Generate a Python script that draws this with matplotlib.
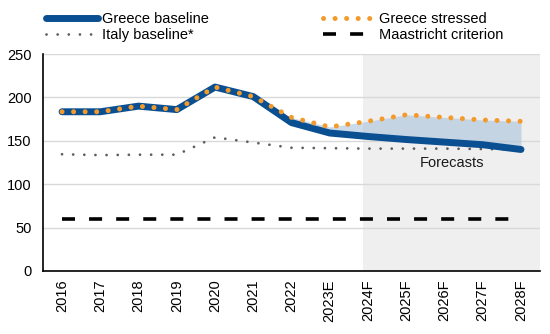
import matplotlib
matplotlib.use("Agg")
import matplotlib.pyplot as plt
from matplotlib.lines import Line2D

plt.rcParams['font.family'] = ['Liberation Sans', 'DejaVu Sans']

years = ["2016", "2017", "2018", "2019", "2020", "2021", "2022", "2023E",
         "2024F", "2025F", "2026F", "2027F", "2028F"]
greece_baseline = [183.5, 183.5, 190, 186, 212, 201, 171, 159, 155, 151.5, 148.5, 145.5, 140]
greece_stressed = [183.5, 183.5, 190, 186, 212, 201, 177, 166, 172.5, 180, 177, 174, 172.5]
italy_baseline = [134.5, 133.5, 134, 134, 154, 148, 142, 141.5, 141, 141, 141, 140.5, 140]
maastricht = [60] * len(years)
forecast_start = 7.88  # shading begins just before the first forecast year

fig = plt.figure(figsize=(5.5, 3.34), dpi=100)
ax = fig.add_axes([0.078, 0.189, 0.904, 0.649])

x = list(range(len(years)))

ax.axvspan(forecast_start, len(years) - 0.5, color="#efefef", zorder=0, lw=0)
ax.fill_between(x[6:], greece_baseline[6:], greece_stressed[6:],
                color="#a9c3dc", alpha=0.6, lw=0, zorder=1)

ax.plot(x, maastricht, color="black", lw=2.6, dashes=(3.6, 3.9),
        dash_capstyle="butt", zorder=2)
ax.plot(x, italy_baseline, color="#5e5e5e", lw=2.0, dashes=(0.01, 4.0),
        dash_capstyle="round", zorder=3)
ax.plot(x, greece_baseline, color="#0a4f92", lw=5.0, solid_capstyle="round",
        solid_joinstyle="round", zorder=4)
ax.plot(x, greece_stressed, color="#f39a2b", lw=3.6, dashes=(0.01, 2.3),
        dash_capstyle="round", zorder=5)

ax.text(10.2, 124, "Forecasts", ha="center", va="center", fontsize=10.5, color="#1a1a1a")

ax.set_xlim(-0.5, len(years) - 0.5)
ax.set_ylim(0, 250)
ax.set_yticks([0, 50, 100, 150, 200, 250])
ax.set_xticks(x)
ax.set_xticklabels(years, rotation=90, fontsize=10.5)
ax.tick_params(axis="y", labelsize=10.5, length=0, pad=8)
ax.tick_params(axis="x", length=0, pad=6)
ax.yaxis.grid(True, color="#d9d9d9", lw=1.0)
ax.set_axisbelow(True)
for s in ["top", "right"]:
    ax.spines[s].set_visible(False)
ax.spines["left"].set_linewidth(1.2)
ax.spines["bottom"].set_linewidth(1.2)

handles = [
    Line2D([], [], color="#0a4f92", lw=5.0, solid_capstyle="round"),
    Line2D([], [], color="#5e5e5e", lw=2.0, dashes=(0.01, 4.0), dash_capstyle="round"),
    Line2D([], [], color="#f39a2b", lw=3.6, dashes=(0.01, 2.3), dash_capstyle="round"),
    Line2D([], [], color="black", lw=2.6, dashes=(3.6, 3.9)),
]
labels = ["Greece baseline", "Italy baseline*", "Greece stressed", "Maastricht criterion"]
fig.legend(handles, labels, ncol=2, loc="upper left", bbox_to_anchor=(0.067, 0.99),
           frameon=False, fontsize=10.5, handlelength=3.6, handletextpad=0.25,
           columnspacing=7.85, labelspacing=0.15, borderaxespad=0.2)

fig.savefig("out.png", dpi=100)
